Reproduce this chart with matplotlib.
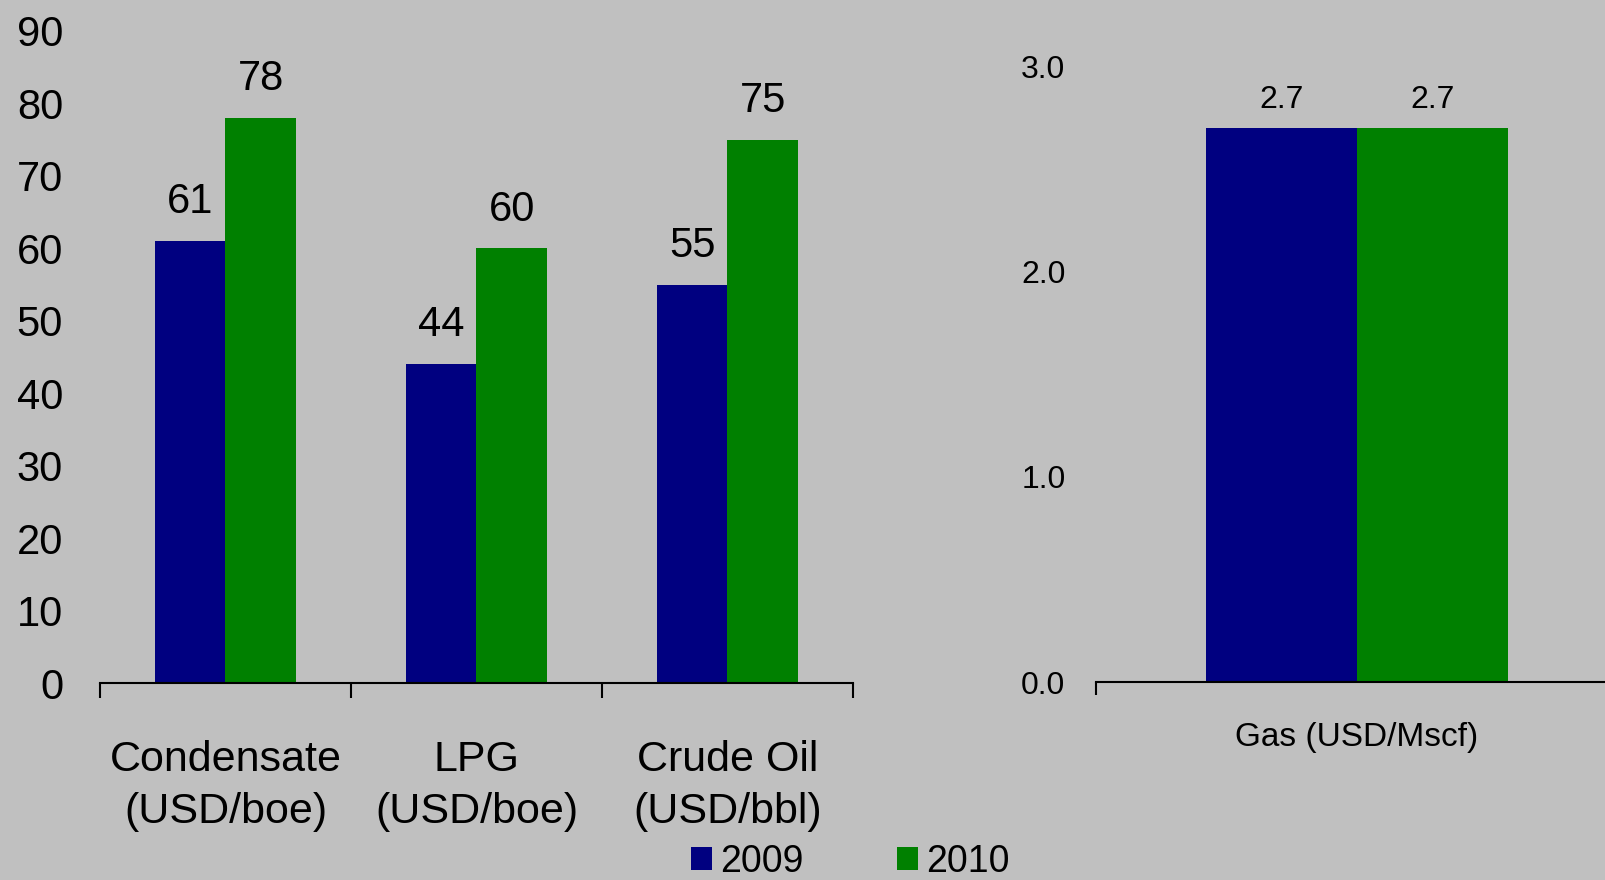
import matplotlib
matplotlib.use('Agg')
import matplotlib.pyplot as plt
import numpy as np

# ---- data ----
categories = ['Condensate\n(USD/boe)', 'LPG\n(USD/boe)', 'Crude Oil\n(USD/bbl)']
values_2009 = [61, 44, 55]
values_2010 = [78, 60, 75]
gas_category = ['Gas (USD/Mscf)']
gas_2009 = [2.7]
gas_2010 = [2.7]
series_labels = ['2009', '2010']
left_yticks = list(range(0, 91, 10))
right_yticks = [0.0, 1.0, 2.0, 3.0]

BG = '#C0C0C0'
NAVY = '#000080'
GREEN = '#008000'

plt.rcParams['font.family'] = ['Liberation Sans', 'DejaVu Sans']

W, H = 1606, 880
fig = plt.figure(figsize=(W / 100, H / 100), dpi=100, facecolor=BG)
ax1 = fig.add_axes([100 / W, 1 - 683 / H, 753 / W, (683 - 31) / H])
ax2 = fig.add_axes([1096 / W, 1 - 682 / H, 522 / W, (682 - 66.6) / H])

for ax in (ax1, ax2):
    ax.set_facecolor(BG)
    for s in ('top', 'right', 'left'):
        ax.spines[s].set_visible(False)
    ax.spines['bottom'].set_linewidth(1.5)
    ax.spines['bottom'].set_color('black')

# ---- left panel ----
x = np.arange(len(categories))
w = 0.28
b1 = ax1.bar(x - w / 2, values_2009, w, color=NAVY, label=series_labels[0])
b2 = ax1.bar(x + w / 2, values_2010, w, color=GREEN, label=series_labels[1])
ax1.set_xlim(-0.5, len(categories) - 0.5)
ax1.set_ylim(0, 90)
ax1.set_yticks(left_yticks)
ax1.set_yticklabels([str(t) for t in left_yticks])
ax1.tick_params(axis='y', length=0, pad=26.6, labelsize=30)
ax1.set_xticks(x)
ax1.set_xticklabels(categories)
ax1.set_xticks(np.arange(len(categories) + 1) - 0.5, minor=True)
ax1.tick_params(axis='x', which='major', length=0, pad=41, labelsize=31)
ax1.tick_params(axis='x', which='minor', length=10.8, width=1.5, direction='out')
for lbl in ax1.get_xticklabels():
    lbl.set_linespacing(1.38)

for bars, vals in ((b1, values_2009), (b2, values_2010)):
    for bar, v in zip(bars, vals):
        ax1.annotate(f'{v}', xy=(bar.get_x() + bar.get_width() / 2, v),
                     xytext=(0, 20), textcoords='offset points',
                     ha='center', va='baseline', fontsize=30)

# ---- right panel ----
xg = np.arange(len(gas_category))
wg = 0.29
g1 = ax2.bar(xg - wg / 2, gas_2009, wg, color=NAVY)
g2 = ax2.bar(xg + wg / 2, gas_2010, wg, color=GREEN)
ax2.set_xlim(-0.5, 0.5)
ax2.set_ylim(0, 3)
ax2.set_yticks(right_yticks)
ax2.set_yticklabels([f'{t:.1f}' for t in right_yticks])
ax2.tick_params(axis='y', length=0, pad=22, labelsize=23)
ax2.set_xticks(xg)
ax2.set_xticklabels(gas_category)
ax2.set_xticks([-0.5], minor=True)
ax2.tick_params(axis='x', which='major', length=0, pad=29, labelsize=24)
ax2.tick_params(axis='x', which='minor', length=9.4, width=1.5, direction='out')

for bars, vals in ((g1, gas_2009), (g2, gas_2010)):
    for bar, v in zip(bars, vals):
        ax2.annotate(f'{v:.1f}', xy=(bar.get_x() + bar.get_width() / 2, v),
                     xytext=(0, 14.4), textcoords='offset points',
                     ha='center', va='baseline', fontsize=23)

# ---- legend ----
fig.legend(handles=[b1, b2], labels=series_labels, loc='center left',
           bbox_to_anchor=(691 / W, 1 - 862 / H), ncol=2, frameon=False,
           fontsize=27, handlelength=0.56, handleheight=0.56,
           handletextpad=0.21, columnspacing=2.5, borderpad=0,
           borderaxespad=0)

fig.savefig('out.png', dpi=100, facecolor=BG)
